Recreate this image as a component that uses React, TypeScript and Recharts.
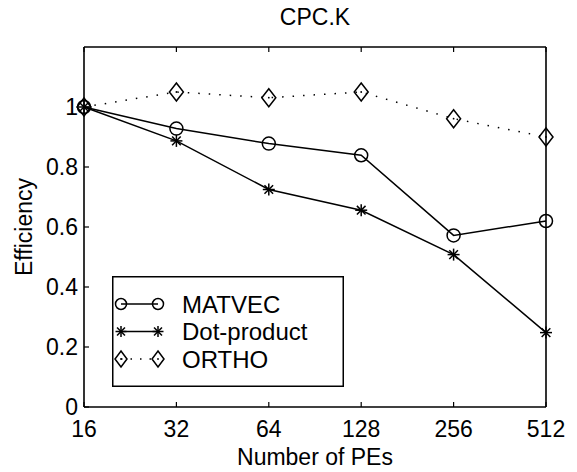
import { LineChart, Line, XAxis, YAxis, Legend, Label } from 'recharts';

const pes = ['16', '32', '64', '128', '256', '512'];
const matvec = [1.0, 0.928, 0.878, 0.839, 0.572, 0.62];
const dotProduct = [1.0, 0.887, 0.725, 0.656, 0.508, 0.248];
const ortho = [1.0, 1.05, 1.031, 1.05, 0.961, 0.9];
const yTicks = [0, 0.2, 0.4, 0.6, 0.8, 1];
const seriesNames = ['MATVEC', 'Dot-product', 'ORTHO'];

const data = pes.map((p, i) => ({
  pes: p,
  matvec: matvec[i],
  dot: dotProduct[i],
  ortho: ortho[i],
}));

const FONT = '"Liberation Sans", Arial, Helvetica, sans-serif';
const FS = 23;
const TICK = 5;

const CircleMark = ({ cx, cy, r = 6.5 }: any) => (
  <circle cx={cx} cy={cy} r={r} fill="none" stroke="#000" strokeWidth={1.5} />
);

const StarMark = ({ cx, cy, s = 6 }: any) => {
  const d = s * 0.72;
  return (
    <g stroke="#000" strokeWidth={1.5}>
      <line x1={cx - s} y1={cy} x2={cx + s} y2={cy} />
      <line x1={cx} y1={cy - s} x2={cx} y2={cy + s} />
      <line x1={cx - d} y1={cy - d} x2={cx + d} y2={cy + d} />
      <line x1={cx - d} y1={cy + d} x2={cx + d} y2={cy - d} />
    </g>
  );
};

const DiamondMark = ({ cx, cy, w = 7, h = 9 }: any) => (
  <g>
    <path
      d={`M${cx} ${cy - h} L${cx + w} ${cy} L${cx} ${cy + h} L${cx - w} ${cy} Z`}
      fill="none"
      stroke="#000"
      strokeWidth={1.5}
    />
    <circle cx={cx} cy={cy} r={0.9} fill="#000" />
  </g>
);

// ticks drawn inward, MATLAB style
const LeftTick = ({ x, y, payload }: any) => (
  <g>
    <line x1={x} y1={y} x2={x + TICK} y2={y} stroke="#000" strokeWidth={1.2} />
    <text x={x - 6} y={y} dy="0.36em" textAnchor="end" fontFamily={FONT} fontSize={FS} fill="#000">
      {payload.value}
    </text>
  </g>
);

const RightTick = ({ x, y }: any) => (
  <line x1={x - TICK} y1={y} x2={x} y2={y} stroke="#000" strokeWidth={1.2} />
);

const BottomTick = ({ x, y, payload }: any) => (
  <g>
    <line x1={x} y1={y} x2={x} y2={y - TICK} stroke="#000" strokeWidth={1.2} />
    <text x={x} y={y + 30} textAnchor="middle" fontFamily={FONT} fontSize={FS} fill="#000">
      {payload.value}
    </text>
  </g>
);

const TopTick = ({ x, y }: any) => (
  <line x1={x} y1={y} x2={x} y2={y + TICK} stroke="#000" strokeWidth={1.2} />
);

const legendMarks = [CircleMark, StarMark, DiamondMark];

const LegendBox = () => (
  <svg width={232} height={111} style={{ display: 'block' }}>
    <rect x={0.75} y={0.75} width={230.5} height={109.5} fill="#fff" stroke="#000" strokeWidth={1.5} />
    {seriesNames.map((name, i) => {
      const y = 28 + i * 27.5;
      const Mark = legendMarks[i];
      return (
        <g key={name}>
          <line
            x1={9}
            y1={y}
            x2={46}
            y2={y}
            stroke="#000"
            strokeWidth={1.5}
            strokeDasharray={i === 2 ? '1.5 8' : undefined}
          />
          <Mark cx={9} cy={y} r={5.5} s={5.5} w={6} h={8} />
          <Mark cx={46} cy={y} r={5.5} s={5.5} w={6} h={8} />
          <text x={70} y={y} dy="0.36em" fontFamily={FONT} fontSize={24} fill="#000">
            {name}
          </text>
        </g>
      );
    })}
  </svg>
);

export default function App() {
  return (
    <div style={{ position: 'absolute', left: 0, top: 0, width: 577, height: 472, background: '#fff' }}>
      <LineChart
        width={577}
        height={472}
        data={data}
        margin={{ top: 46, right: 30, bottom: 64, left: 83 }}
      >
        <XAxis
          xAxisId="b"
          dataKey="pes"
          height={1}
          tickSize={0}
          tickMargin={0}
          interval={0}
          axisLine={{ stroke: '#000', strokeWidth: 1.6 }}
          tickLine={false}
          tick={<BottomTick />}
        >
          <Label
            content={({ viewBox }: any) => (
              <text
                x={viewBox.x + viewBox.width / 2}
                y={465}
                textAnchor="middle"
                fontFamily={FONT}
                fontSize={FS}
                fill="#000"
              >
                Number of PEs
              </text>
            )}
          />
        </XAxis>
        <XAxis
          xAxisId="t"
          dataKey="pes"
          orientation="top"
          height={1}
          tickSize={0}
          tickMargin={0}
          interval={0}
          axisLine={{ stroke: '#000', strokeWidth: 1.6 }}
          tickLine={false}
          tick={<TopTick />}
        >
          <Label
            content={({ viewBox }: any) => (
              <text
                x={viewBox.x + viewBox.width / 2}
                y={25}
                textAnchor="middle"
                fontFamily={FONT}
                fontSize={FS}
                fill="#000"
              >
                CPC.K
              </text>
            )}
          />
        </XAxis>
        <YAxis
          yAxisId="l"
          domain={[0, 1.2]}
          ticks={yTicks}
          width={1}
          tickSize={0}
          tickMargin={0}
          interval={0}
          axisLine={{ stroke: '#000', strokeWidth: 1.6 }}
          tickLine={false}
          tick={<LeftTick />}
        >
          <Label
            content={({ viewBox }: any) => {
              const cy = viewBox.y + viewBox.height / 2;
              return (
                <text
                  x={24}
                  y={cy}
                  transform={`rotate(-90 24 ${cy})`}
                  textAnchor="middle"
                  dy="0.36em"
                  fontFamily={FONT}
                  fontSize={FS}
                  fill="#000"
                >
                  Efficiency
                </text>
              );
            }}
          />
        </YAxis>
        <YAxis
          yAxisId="r"
          orientation="right"
          domain={[0, 1.2]}
          ticks={yTicks}
          width={1}
          tickSize={0}
          tickMargin={0}
          interval={0}
          axisLine={{ stroke: '#000', strokeWidth: 1.6 }}
          tickLine={false}
          tick={<RightTick />}
        />
        <Legend
          layout="vertical"
          align="center"
          verticalAlign="middle"
          content={<LegendBox />}
          wrapperStyle={{ position: 'absolute', left: 112, top: 276, width: 232, height: 111 }}
        />
        <Line
          xAxisId="b"
          yAxisId="l"
          dataKey="ortho"
          name="ORTHO"
          stroke="#000"
          strokeWidth={1.5}
          strokeDasharray="1.5 9"
          dot={(p: any) => <DiamondMark key={`o${p.index}`} cx={p.cx} cy={p.cy} />}
          isAnimationActive={false}
        />
        <Line
          xAxisId="b"
          yAxisId="l"
          dataKey="matvec"
          name="MATVEC"
          stroke="#000"
          strokeWidth={1.5}
          dot={(p: any) => <CircleMark key={`m${p.index}`} cx={p.cx} cy={p.cy} />}
          isAnimationActive={false}
        />
        <Line
          xAxisId="b"
          yAxisId="l"
          dataKey="dot"
          name="Dot-product"
          stroke="#000"
          strokeWidth={1.5}
          dot={(p: any) => <StarMark key={`d${p.index}`} cx={p.cx} cy={p.cy} />}
          isAnimationActive={false}
        />
      </LineChart>
    </div>
  );
}
